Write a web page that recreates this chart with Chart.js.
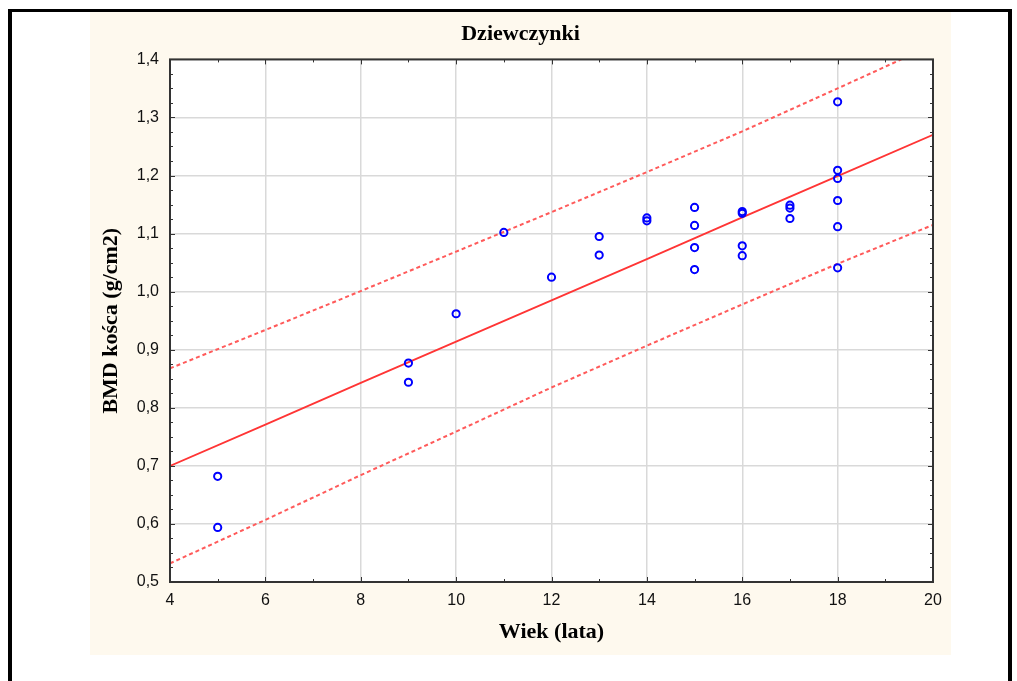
<!DOCTYPE html>
<html>
<head>
<meta charset="utf-8">
<script src="https://cdn.jsdelivr.net/npm/chart.js@4"></script>
<style>
  body { margin: 0; background: #fff; width: 1017px; height: 681px; overflow: hidden; position: relative; }
  #frame { position: absolute; left: 8px; top: 9px; width: 996px; height: 700px;
           border-top: 3px solid #000; border-left: 4px solid #000; border-right: 4px solid #000; }
  #wrap { position: absolute; left: 90px; top: 12px; width: 861px; height: 643px; background: #fef9ee; }
</style>
</head>
<body>
<div id="frame"></div>
<div id="wrap"><canvas id="bmdCanvas" width="861" height="643"></canvas></div>
<script>
// pomiary: wiek (lata) i BMD (g/cm2)
var ages = [5, 5, 9, 9, 10, 11, 12, 13, 13, 14, 14,
            15, 15, 15, 15, 16, 16, 16, 16, 17, 17, 17,
            18, 18, 18, 18, 18, 18];
var bmd = [0.682, 0.594, 0.877, 0.844, 0.962, 1.102, 1.025, 1.095, 1.063, 1.127, 1.122,
           1.145, 1.114, 1.076, 1.038, 1.138, 1.135, 1.079, 1.062, 1.149, 1.144, 1.126,
           1.327, 1.209, 1.195, 1.157, 1.112, 1.041];

// linia regresji i przedzialy
var lineX = [4, 6, 8, 10, 12, 14, 16, 18, 20];
var fitY = [0.700, 0.771, 0.843, 0.914, 0.985, 1.056, 1.128, 1.199, 1.270];
var upperY = [0.868, 0.934, 1.001, 1.069, 1.137, 1.206, 1.276, 1.350, 1.425];
var lowerY = [0.532, 0.607, 0.684, 0.759, 0.835, 0.907, 0.978, 1.048, 1.115];

var xTicks = [4, 6, 8, 10, 12, 14, 16, 18, 20];
var yTicks = [0.5, 0.6, 0.7, 0.8, 0.9, 1.0, 1.1, 1.2, 1.3, 1.4];

function pts(xs, ys) {
    var out = [];
    for (let i = 0; i < xs.length; i++) {
        out.push({x: xs[i], y: ys[i]});
    }
    return out;
}

// biale tlo obszaru wykresu, ramka i znaczniki skierowane do srodka
var framePlugin = {
    id: 'frame',
    beforeDraw: function (chart) {
        var a = chart.chartArea, ctx = chart.ctx;
        ctx.save();
        ctx.fillStyle = '#ffffff';
        ctx.fillRect(a.left, a.top, a.right - a.left, a.bottom - a.top);
        ctx.restore();
    },
    afterDraw: function (chart) {
        var a = chart.chartArea, ctx = chart.ctx;
        var xs = chart.scales.x, ys = chart.scales.y;
        ctx.save();
        ctx.strokeStyle = '#333';
        ctx.lineWidth = 1;
        for (let v = 4; v <= 20; v += 1) {
            var px = Math.round(xs.getPixelForValue(v)) + 0.5;
            var len = (v % 2 === 0) ? 5 : 3;
            ctx.beginPath();
            ctx.moveTo(px, a.bottom); ctx.lineTo(px, a.bottom - len);
            ctx.moveTo(px, a.top); ctx.lineTo(px, a.top + len);
            ctx.stroke();
        }
        for (let k = 0; k <= 36; k++) {
            var py = Math.round(ys.getPixelForValue(0.5 + k * 0.025)) + 0.5;
            var l2 = (k % 4 === 0) ? 5 : 3;
            ctx.beginPath();
            ctx.moveTo(a.left, py); ctx.lineTo(a.left + l2, py);
            ctx.moveTo(a.right, py); ctx.lineTo(a.right - l2, py);
            ctx.stroke();
        }
        ctx.lineWidth = 2;
        ctx.strokeRect(a.left, a.top, a.right - a.left, a.bottom - a.top);
        ctx.restore();
    }
};

var tickFont = {family: "'Liberation Sans', Arial, sans-serif", size: 16};
var titleFont = {family: "'Liberation Serif', 'Times New Roman', serif", size: 22, weight: 'bold'};

new Chart(document.getElementById('bmdCanvas'), {
    type: 'scatter',
    data: {
        datasets: [
            {
                label: 'BMD',
                data: pts(ages, bmd),
                showLine: false,
                pointStyle: 'circle',
                pointRadius: 3.6,
                pointBorderWidth: 2,
                pointBorderColor: '#0000ff',
                pointBackgroundColor: 'rgba(0,0,0,0)'
            },
            {
                label: 'fit',
                data: pts(lineX, fitY),
                showLine: true,
                pointRadius: 0,
                borderColor: '#ff3535',
                borderWidth: 1.8
            },
            {
                label: 'upper',
                data: pts(lineX, upperY),
                showLine: true,
                pointRadius: 0,
                borderColor: '#ff5a5a',
                borderWidth: 2,
                borderDash: [4, 3]
            },
            {
                label: 'lower',
                data: pts(lineX, lowerY),
                showLine: true,
                pointRadius: 0,
                borderColor: '#ff5a5a',
                borderWidth: 2,
                borderDash: [4, 3]
            }
        ]
    },
    options: {
        responsive: false,
        animation: false,
        devicePixelRatio: 1,
        layout: {padding: 0},
        plugins: {
            legend: {display: false},
            tooltip: {enabled: false},
            title: {
                display: true,
                text: 'Dziewczynki',
                color: '#000',
                font: titleFont,
                padding: {top: 9, bottom: 12}
            }
        },
        scales: {
            x: {
                type: 'linear',
                min: 4,
                max: 20,
                afterFit: function (s) { s.height = 73; },
                afterBuildTicks: function (s) { s.ticks = xTicks.map(v => ({value: v})); },
                ticks: {
                    color: '#111',
                    font: tickFont,
                    padding: 9,
                    maxRotation: 0,
                    callback: v => String(v)
                },
                grid: {color: '#d9d9d9', lineWidth: 1.5, drawTicks: false},
                border: {display: false},
                title: {
                    display: true,
                    text: 'Wiek (lata)',
                    color: '#000',
                    font: titleFont,
                    padding: {top: 0, bottom: 9}
                }
            },
            y: {
                type: 'linear',
                min: 0.5,
                max: 1.4,
                afterFit: function (s) { s.width = 80; },
                afterBuildTicks: function (s) { s.ticks = yTicks.map(v => ({value: v})); },
                ticks: {
                    color: '#111',
                    font: tickFont,
                    padding: 11,
                    callback: v => v.toFixed(1).replace('.', ',')
                },
                grid: {color: '#d9d9d9', lineWidth: 1.5, drawTicks: false},
                border: {display: false},
                title: {
                    display: true,
                    text: 'BMD kośca (g/cm2)',
                    color: '#000',
                    font: titleFont,
                    padding: {top: 8, bottom: 0}
                }
            },
            // pusty margines po prawej, zeby tytul byl na srodku calego pola
            yRight: {
                type: 'linear',
                position: 'right',
                min: 0,
                max: 1,
                afterFit: function (s) { s.width = 18; },
                ticks: {display: false},
                grid: {display: false, drawOnChartArea: false},
                border: {display: false}
            }
        }
    },
    plugins: [framePlugin]
});
</script>
</body>
</html>
